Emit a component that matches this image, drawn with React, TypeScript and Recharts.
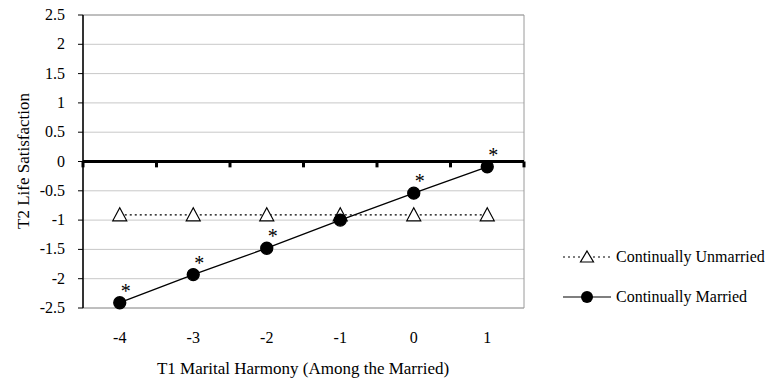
import React from "react";
import {
  LineChart,
  Line,
  XAxis,
  YAxis,
  CartesianGrid,
  ReferenceLine,
  ReferenceArea,
  LabelList,
} from "recharts";

const harmony = [-4, -3, -2, -1, 0, 1];
const unmarried = [-0.91, -0.91, -0.91, -0.91, -0.91, -0.91];
const married = [-2.41, -1.93, -1.48, -1.0, -0.54, -0.09];
const significant = ["*", "*", "*", "", "*", "*"];
const yTicks = [-2.5, -2, -1.5, -1, -0.5, 0, 0.5, 1, 1.5, 2, 2.5];
const bandEdges = [-4.5, -3.5, -2.5, -1.5, -0.5, 0.5, 1.5];

const data = harmony.map((h, i) => ({
  harmony: h,
  unmarried: unmarried[i],
  married: married[i],
  sig: significant[i],
}));

const FONT = "'Liberation Serif', 'Times New Roman', serif";

const Triangle = (props: any) => {
  const { cx, cy } = props;
  if (cx == null || cy == null) return null;
  return (
    <path
      d={`M${cx},${cy - 7} L${cx + 7},${cy + 6} L${cx - 7},${cy + 6} Z`}
      fill="#fff"
      stroke="#000"
      strokeWidth={1.2}
    />
  );
};

const Star = (props: any) => {
  const { x, y, value } = props;
  if (!value) return null;
  return (
    <text x={x + 6} y={y - 5} fontSize={20} fontFamily={FONT} fill="#000" textAnchor="middle">
      {value}
    </text>
  );
};

const XTick = (props: any) => {
  const { x, y, payload } = props;
  return (
    <text x={x} y={y + 27} fontSize={16} fontFamily={FONT} fill="#000" textAnchor="middle">
      {payload.value}
    </text>
  );
};

const YTick = (props: any) => {
  const { x, y, payload } = props;
  return (
    <text x={x - 11} y={y + 5} fontSize={16} fontFamily={FONT} fill="#000" textAnchor="end">
      {payload.value}
    </text>
  );
};

const LegendBox = () => (
  <svg width={225} height={70}>
    <line x1={23} y1={17} x2={72} y2={17} stroke="#000" strokeWidth={1.2} strokeDasharray="2 3" />
    <path d="M47,11 L53.5,22 L40.5,22 Z" fill="#fff" stroke="#000" strokeWidth={1.2} />
    <text x={76} y={22} fontSize={16} fontFamily={FONT} fill="#000">
      Continually Unmarried
    </text>
    <line x1={23} y1={57} x2={71} y2={57} stroke="#000" strokeWidth={1.2} />
    <circle cx={47} cy={57} r={6} fill="#000" />
    <text x={76} y={62} fontSize={16} fontFamily={FONT} fill="#000">
      Continually Married
    </text>
  </svg>
);

export default function App() {
  return (
    <div style={{ position: "absolute", left: 0, top: 0, width: 765, height: 382, background: "#fff" }}>
      <LineChart
        width={765}
        height={382}
        data={data}
        margin={{ top: 15, right: 241, bottom: 14, left: 0 }}
      >
        <CartesianGrid horizontal vertical={false} stroke="#c8c8c8" strokeWidth={1} />
        <ReferenceArea x1={-4.5} x2={1.5} y1={-2.5} y2={2.5} fill="none" stroke="#9a9a9a" strokeWidth={1} />
        <XAxis
          dataKey="harmony"
          type="number"
          domain={[-4.5, 1.5]}
          ticks={harmony}
          axisLine={false}
          tickLine={false}
          height={60}
          tick={<XTick />}
        />
        <YAxis
          type="number"
          domain={[-2.5, 2.5]}
          ticks={yTicks}
          width={83}
          interval={0}
          axisLine={{ stroke: "#000", strokeWidth: 1.5 }}
          tickLine={{ stroke: "#000" }}
          tickSize={5}
          tick={<YTick />}
        />
        <ReferenceLine y={0} stroke="#000" strokeWidth={3} />
        {bandEdges.map((b) => (
          <ReferenceLine
            key={b}
            segment={[
              { x: b, y: 0 },
              { x: b, y: -0.1 },
            ]}
            stroke="#000"
            strokeWidth={3}
          />
        ))}
        <Line
          dataKey="unmarried"
          stroke="#000"
          strokeWidth={1.3}
          strokeDasharray="2 3"
          dot={<Triangle />}
          activeDot={false}
          isAnimationActive={false}
        />
        <Line
          dataKey="married"
          stroke="#000"
          strokeWidth={1.3}
          dot={{ r: 6, fill: "#000", stroke: "#000" }}
          activeDot={false}
          isAnimationActive={false}
        >
          <LabelList dataKey="sig" content={<Star />} />
        </Line>
        <text x={303} y={374} fontSize={17} fontFamily={FONT} fill="#000" textAnchor="middle">
          T1 Marital Harmony (Among the Married)
        </text>
        <text
          x={29}
          y={161}
          fontSize={17}
          fontFamily={FONT}
          fill="#000"
          textAnchor="middle"
          transform="rotate(-90 29 161)"
        >
          T2 Life Satisfaction
        </text>
      </LineChart>
      <div style={{ position: "absolute", left: 540, top: 240 }}>
        <LegendBox />
      </div>
    </div>
  );
}
